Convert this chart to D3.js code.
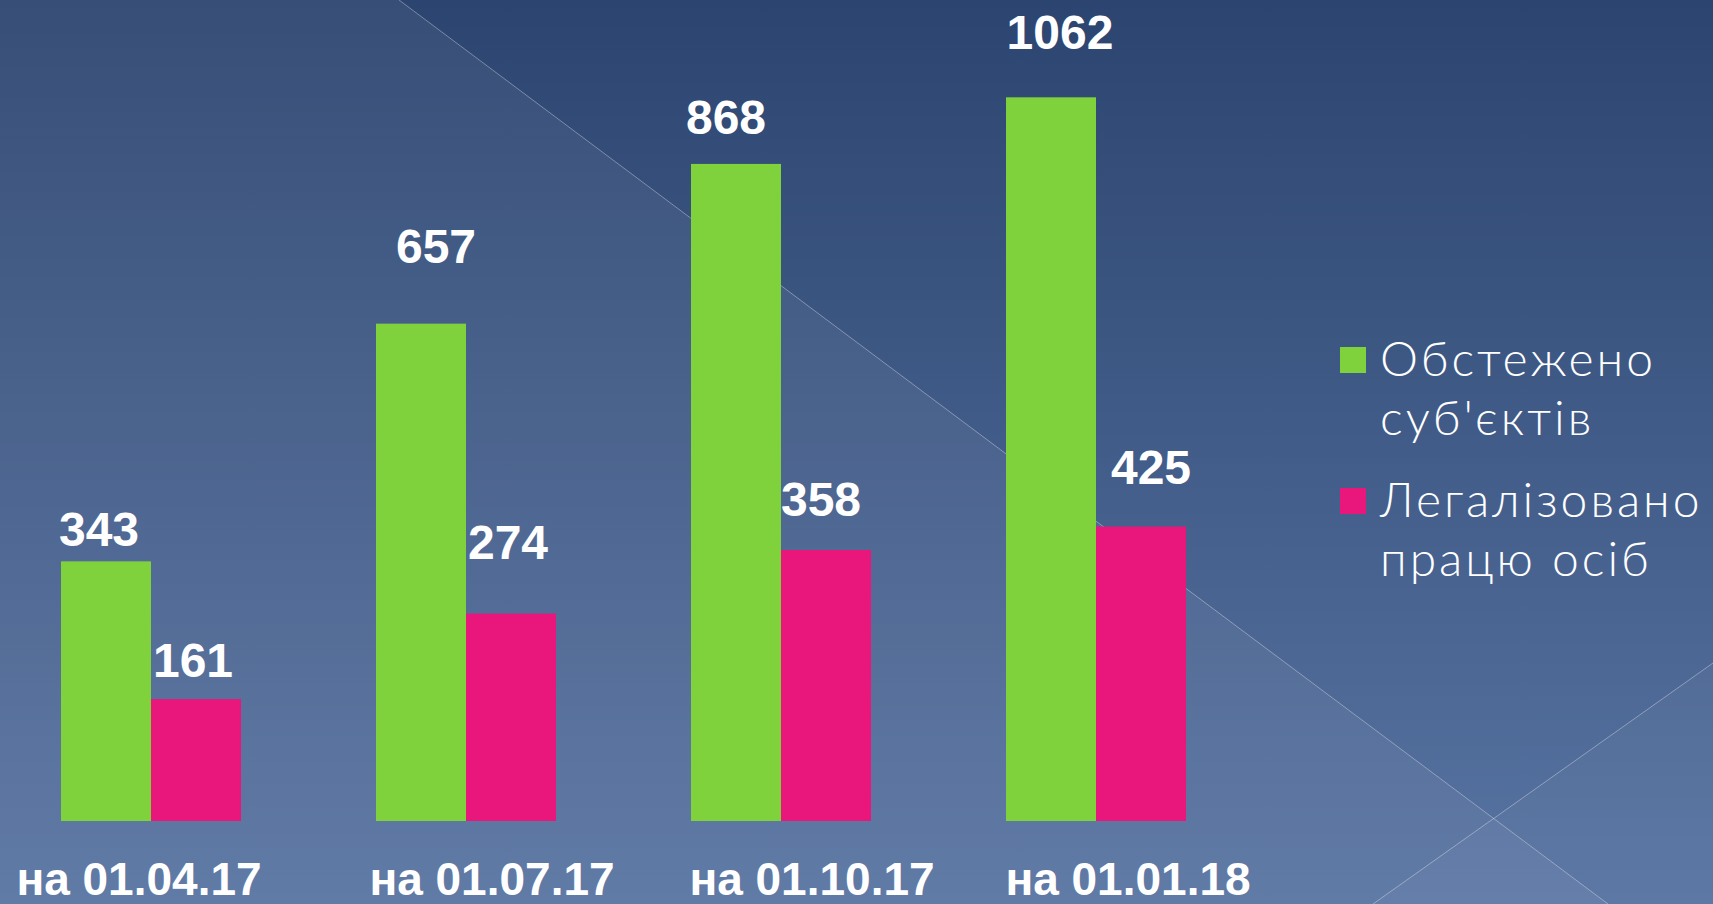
<!DOCTYPE html>
<html>
<head>
<meta charset="utf-8">
<script src="https://cdn.jsdelivr.net/npm/d3@7"></script>
<style>
  html, body { margin: 0; padding: 0; overflow: hidden; }
  svg { display: block; }
</style>
</head>
<body>
<svg id="chart" width="1713" height="904"></svg>
<script>
// --- data ---
const dates = ['на 01.04.17', 'на 01.07.17', 'на 01.10.17', 'на 01.01.18'];
const seriesNames = ['Обстежено суб\'єктів', 'Легалізовано працю осіб'];
// bar heights as drawn in the picture
const obstezheno = [343, 657, 868, 956];
const legalizovano = [161, 274, 358, 389];
// the value labels written over the bars
const obstezhenoLabels = ['343', '657', '868', '1062'];
const legalizovanoLabels = ['161', '274', '358', '425'];

// label nudges (they were placed by hand in the original)
const labelNudge = [
  [[-7, 15], [15, 61], [-10, 30], [9, 48]],
  [[-3, 22], [-3, 55], [-5, 34], [10, 43]]
];
const dateNudge = [-12, 26, 31, 32];

const W = 1713, H = 904;
const colors = ['#80d23c', '#e9177c'];
const svg = d3.select('#chart');

// фон
const defs = svg.append('defs');
const grad = defs.append('linearGradient')
  .attr('id', 'bg').attr('x1', 0).attr('y1', 0).attr('x2', 0).attr('y2', 1);
grad.append('stop').attr('offset', 0).attr('stop-color', '#2c4570');
grad.append('stop').attr('offset', 1).attr('stop-color', '#5874a2');
svg.append('rect').attr('width', W).attr('height', H).attr('fill', 'url(#bg)');

svg.append('path')
  .attr('d', 'M0,0 L399,0 L1608,904 L0,904 Z')
  .attr('fill', '#fff').attr('opacity', 0.055);
svg.append('path')
  .attr('d', 'M1713,663 L1373,904 L1713,904 Z')
  .attr('fill', '#fff').attr('opacity', 0.035);
svg.append('line')
  .attr('x1', 399).attr('y1', 0).attr('x2', 1608).attr('y2', 904)
  .attr('stroke', '#fff').attr('stroke-opacity', 0.35).attr('stroke-width', 1);
svg.append('line')
  .attr('x1', 1713).attr('y1', 663).attr('x2', 1373).attr('y2', 904)
  .attr('stroke', '#fff').attr('stroke-opacity', 0.35).attr('stroke-width', 1);

// scales
const x = d3.scaleBand().domain(dates).range([61, 1186]).paddingInner(0.4286).paddingOuter(0);
const xSub = d3.scaleBand().domain([0, 1]).range([0, x.bandwidth()]).padding(0);
const y = d3.scaleLinear().domain([0, 1000]).range([821, 64]);

const series = [
  { values: obstezheno, labels: obstezhenoLabels },
  { values: legalizovano, labels: legalizovanoLabels }
];

const g = svg.append('g');

series.forEach((s, si) => {
  g.selectAll('.bar' + si)
    .data(s.values)
    .enter().append('rect')
    .attr('x', (d, i) => x(dates[i]) + xSub(si))
    .attr('y', d => y(d))
    .attr('width', xSub.bandwidth())
    .attr('height', d => y(0) - y(d))
    .attr('fill', colors[si]);

  g.selectAll('.lbl' + si)
    .data(s.labels)
    .enter().append('text')
    .attr('x', (d, i) => x(dates[i]) + xSub(si) + xSub.bandwidth() / 2 + labelNudge[si][i][0])
    .attr('y', (d, i) => y(s.values[i]) - labelNudge[si][i][1])
    .attr('text-anchor', 'middle')
    .attr('fill', '#fff')
    .style('font-family', '"Liberation Sans", Arial, sans-serif')
    .style('font-weight', 'bold')
    .style('font-size', '48px')
    .text(d => d);
});

// ось X
const xAxis = svg.append('g')
  .attr('transform', 'translate(0,' + y(0) + ')')
  .call(d3.axisBottom(x).tickSize(0));
xAxis.select('.domain').remove();
xAxis.selectAll('.tick text')
  .attr('y', 74)
  .attr('dy', 0)
  .attr('dx', (d, i) => dateNudge[i])
  .attr('fill', '#fff')
  .style('font-family', '"Liberation Sans", Arial, sans-serif')
  .style('font-weight', 'bold')
  .style('font-size', '46px');

// легенда
const legendLines = [['Обстежено', 'суб\'єктів'], ['Легалізовано', 'працю осіб']];
const legend = svg.append('g').attr('transform', 'translate(1340,347)');
legendLines.forEach((lines, i) => {
  const item = legend.append('g').attr('transform', 'translate(0,' + i * 141 + ')');
  item.append('rect').attr('width', 26).attr('height', 26).attr('fill', colors[i]);
  lines.forEach((t, j) => {
    item.append('text')
      .attr('x', 40)
      .attr('y', 29 + j * 59)
      .attr('fill', '#fff')
      .style('font-family', 'Lato, "Noto Sans", sans-serif')
      .style('font-weight', 300)
      .style('font-size', '48px')
      .style('letter-spacing', '3px')
      .text(t);
  });
});
</script>
</body>
</html>
